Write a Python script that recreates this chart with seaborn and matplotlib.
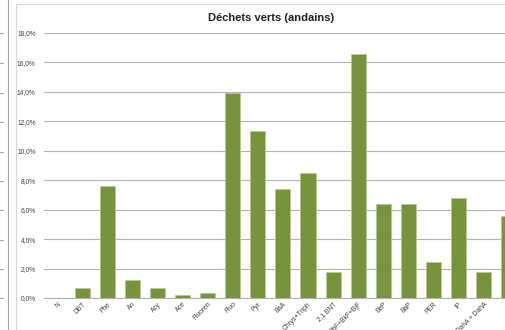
import matplotlib
matplotlib.use("Agg")
import matplotlib.pyplot as plt
import seaborn as sns
from matplotlib.lines import Line2D
from matplotlib.ticker import FuncFormatter

# Données (%)
categories = ["N", "DBT", "Phe", "An", "Acy", "Ace", "Fluoren", "Fluo", "Pyr",
              "BaA", "Chrys+Triph", "2,1 BNT", "BbF+BkF+BjF", "BeP", "BaP",
              "PER", "IP", "DahA + DahA", "BghiP"]
values = [0.0, 0.7, 7.6, 1.25, 0.65, 0.2, 0.35, 13.9, 11.35,
          7.4, 8.5, 1.8, 16.55, 6.4, 6.4, 2.45, 6.8, 1.8, 5.6]
yticks = [0, 2, 4, 6, 8, 10, 12, 14, 16, 18]

sns.set_style("white")
plt.rcParams["font.family"] = ["Liberation Sans", "DejaVu Sans"]

W, H = 506, 330
fig = plt.figure(figsize=(W / 100, H / 100), dpi=100)
ax = fig.add_axes([44 / W, 1 - 298 / H, 1 - 44 / W, (298 - 33) / H])

sns.barplot(x=categories, y=values, color="#77933C", saturation=1, width=0.6,
            edgecolor="#b5cc85", linewidth=0.5, ax=ax, zorder=3)

ax.set_xlim(-0.52, 17.89)
ax.set_ylim(0, 18)
ax.set_yticks(yticks)
ax.yaxis.set_major_formatter(FuncFormatter(lambda v, p: f"{v:.1f}%".replace(".", ",")))
ax.grid(axis="y", color="#b3b3b3", linewidth=0.8, zorder=0)
ax.tick_params(axis="y", labelsize=4.8, length=0, pad=6, colors="#404040")
ax.tick_params(axis="x", labelsize=4.8, length=0, pad=2, colors="#404040")
for lbl in ax.get_xticklabels():
    lbl.set_rotation(45)
    lbl.set_ha("right")
    lbl.set_rotation_mode("anchor")
for s in ["top", "right", "left"]:
    ax.spines[s].set_visible(False)
ax.spines["bottom"].set_color("#b3b3b3")
ax.set_xlabel("")
ax.set_ylabel("")

fig.text(271 / W, 1 - 18 / H, "Déchets verts (andains)", ha="center", va="center",
         fontsize=8, fontweight="bold", color="#202020")

# cadre du graphique et fragment du graphique voisin
fig.add_artist(Line2D([16 / W, 1], [1 - 4 / H, 1 - 4 / H], color="#d9d9d9", lw=0.8))
fig.add_artist(Line2D([16 / W, 16 / W], [0, 1 - 4 / H], color="#d9d9d9", lw=0.8))
fig.add_artist(Line2D([8 / W, 8 / W], [0, 1], color="#a6a6a6", lw=0.8))
for yp in [33, 63, 93, 122, 152, 181, 210, 240, 269, 298]:
    fig.add_artist(Line2D([0, 3 / W], [1 - yp / H, 1 - yp / H], color="#a6a6a6", lw=0.8))

fig.savefig("out.png", dpi=100)
